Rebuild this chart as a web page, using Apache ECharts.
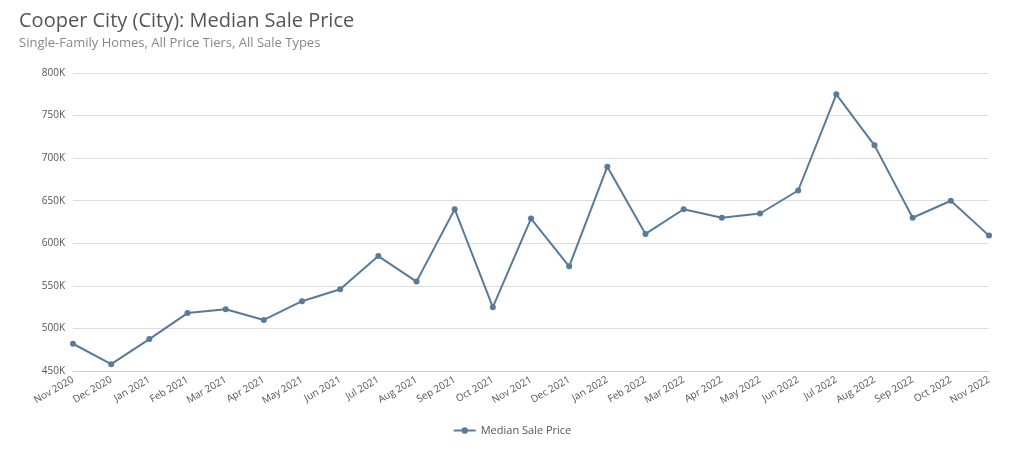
<!DOCTYPE html>
<html><head><meta charset="utf-8">
<script src="https://cdn.jsdelivr.net/npm/echarts@6/dist/echarts.min.js"></script>
<style>html,body{margin:0;padding:0;background:#fff}#c{width:1024px;height:469px}</style>
</head><body><div id="c"></div>
<script>
const categories=["Nov 2020","Dec 2020","Jan 2021","Feb 2021","Mar 2021","Apr 2021","May 2021","Jun 2021","Jul 2021","Aug 2021","Sep 2021","Oct 2021","Nov 2021","Dec 2021","Jan 2022","Feb 2022","Mar 2022","Apr 2022","May 2022","Jun 2022","Jul 2022","Aug 2022","Sep 2022","Oct 2022","Nov 2022"];
const medianSalePrice=[482000,458000,487500,518000,522500,510000,532000,546000,585000,555000,640000,525000,629000,573000,690000,611000,640000,630000,635000,662000,775000,715000,630000,650000,609000];
const chart=echarts.init(document.getElementById('c'));
chart.setOption({
 animation:false,
 title:{text:'Cooper City (City): Median Sale Price',subtext:'Single-Family Homes, All Price Tiers, All Sale Types',left:14,top:6,itemGap:6,
  textStyle:{fontFamily:'Open Sans',fontSize:20,fontWeight:'normal',color:'#555'},
  subtextStyle:{fontFamily:'Open Sans',fontSize:13,color:'#888'}},
 legend:{bottom:28,left:'center',itemWidth:22,itemHeight:8,textStyle:{fontFamily:'Open Sans',fontSize:11,color:'#555'}},
 grid:{left:73,right:35,top:73,bottom:98},
 xAxis:{type:'category',data:categories,boundaryGap:false,
  axisLine:{lineStyle:{color:'#ccc'}},axisTick:{show:false},
  axisLabel:{rotate:30,fontFamily:'Open Sans',fontSize:10,color:'#555',interval:0,margin:8}},
 yAxis:{type:'value',min:450000,max:800000,interval:50000,
  axisLabel:{fontFamily:'Open Sans',fontSize:10,color:'#555',formatter:v=>(v/1000)+'K'},
  splitLine:{lineStyle:{color:'#ddd'}},axisLine:{show:false},axisTick:{show:false}},
 series:[{name:'Median Sale Price',type:'line',data:medianSalePrice,symbol:'circle',symbolSize:6,
  itemStyle:{color:'#587a9b'},lineStyle:{color:'#587a9b',width:2}}]
});
</script></body></html>
